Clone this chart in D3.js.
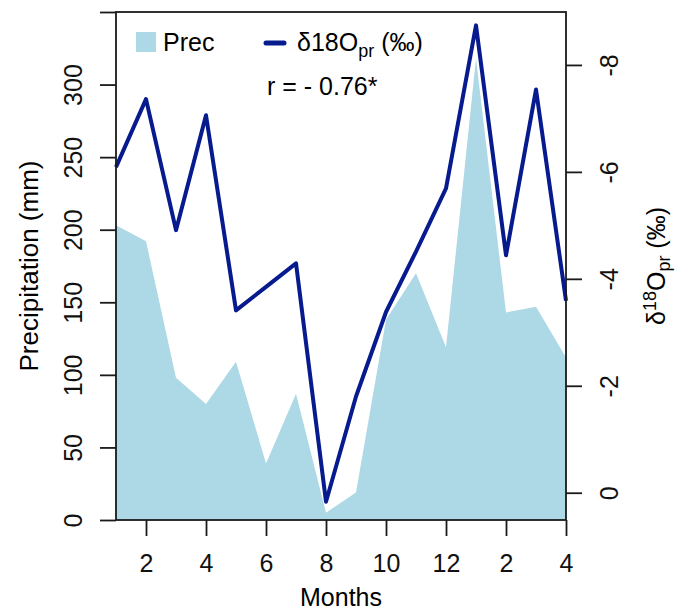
<!DOCTYPE html>
<html>
<head>
<meta charset="utf-8">
<script src="https://cdn.jsdelivr.net/npm/d3@7"></script>
<style>
    body { margin: 0; background: #fff; }
    #chart svg { display: block; font-family: "Liberation Sans", Arial, sans-serif; }
    .axis path, .axis line { stroke: #1a1a1a; stroke-width: 1.8; }
    .axis text { font-size: 25px; fill: #111; font-family: "Liberation Sans", Arial, sans-serif; }
</style>
</head>
<body>
<div id="chart"></div>
<script>
// Month labels for the 16 time steps (Jan of year 1 .. Apr of year 2)
const months = ["1", "2", "3", "4", "5", "6", "7", "8", "9", "10", "11", "12", "1", "2", "3", "4"];
// Monthly precipitation (mm)
const prec = [203, 192, 98, 80, 109, 39, 87, 5, 19, 138, 170, 119, 318, 143, 147, 112];
// Monthly precipitation d18O (permil)
const d18O = [-6.09, -7.36, -4.91, -7.06, -3.41, -3.85, -4.29, 0.17, -1.80, -3.38, -4.51, -5.69, -8.74, -4.44, -7.54, -3.59];
// Tick values
const xTicks = [2, 4, 6, 8, 10, 12, 14, 16];
const precTicks = [0, 50, 100, 150, 200, 250, 300, 350];
const precLabelMax = 300;
const isoTicks = [0, -2, -4, -6, -8];

document.addEventListener('DOMContentLoaded', () => {
    const W = 677, H = 615;
    const plot = { left: 116, right: 566, top: 12, bottom: 520 };

    const svg = d3.select("#chart")
        .append("svg")
        .attr("width", W)
        .attr("height", H);

    const data = months.map((m, i) => ({ idx: i + 1, month: m, prec: prec[i], iso: d18O[i] }));

    // Scales
    const x = d3.scaleLinear().domain([1, 16]).range([plot.left, plot.right]);
    const yL = d3.scaleLinear().domain([0, 350]).range([plot.bottom, plot.top]);
    const yR = d3.scaleLinear().domain([0.51, -8.99]).range([plot.bottom, plot.top]);

    // Precipitation area
    const area = d3.area()
        .x(d => x(d.idx))
        .y0(yL(0))
        .y1(d => yL(d.prec));

    svg.append("path")
        .datum(data)
        .attr("d", area)
        .attr("fill", "#add8e6");

    // d18O line
    const line = d3.line()
        .x(d => x(d.idx))
        .y(d => yR(d.iso));

    svg.append("path")
        .datum(data)
        .attr("d", line)
        .attr("fill", "none")
        .attr("stroke", "#071a8e")
        .attr("stroke-width", 4)
        .attr("stroke-linejoin", "round");

    // Box
    svg.append("rect")
        .attr("x", plot.left)
        .attr("y", plot.top)
        .attr("width", plot.right - plot.left)
        .attr("height", plot.bottom - plot.top)
        .attr("fill", "none")
        .attr("stroke", "#1a1a1a")
        .attr("stroke-width", 1.8);

    // Left axis
    const leftAxis = svg.append("g")
        .attr("class", "axis")
        .attr("transform", `translate(${plot.left},0)`)
        .call(d3.axisLeft(yL).tickValues(precTicks).tickSize(16)
            .tickFormat(d => d <= precLabelMax ? String(d) : ""));
    leftAxis.select(".domain").remove();
    leftAxis.selectAll(".tick text")
        .attr("x", null).attr("dy", null)
        .attr("text-anchor", "middle")
        .attr("transform", "translate(-34,0) rotate(-90)");

    // Right axis (plain hyphen minus like the original)
    const rightAxis = svg.append("g")
        .attr("class", "axis")
        .attr("transform", `translate(${plot.right},0)`)
        .call(d3.axisRight(yR).tickValues(isoTicks).tickSize(16)
            .tickFormat(d => String(d)));
    rightAxis.select(".domain").remove();
    rightAxis.selectAll(".tick text")
        .attr("x", null).attr("dy", null)
        .attr("text-anchor", "middle")
        .attr("transform", "translate(52,0) rotate(-90)");

    // Bottom axis
    const bottomAxis = svg.append("g")
        .attr("class", "axis")
        .attr("transform", `translate(0,${plot.bottom})`)
        .call(d3.axisBottom(x).tickValues(xTicks).tickSize(16)
            .tickFormat(d => months[d - 1]));
    bottomAxis.select(".domain").remove();
    bottomAxis.selectAll(".tick text")
        .attr("dy", null)
        .attr("y", 52);

    // Axis titles
    svg.append("text")
        .attr("transform", `translate(38,${(plot.top + plot.bottom) / 2}) rotate(-90)`)
        .attr("text-anchor", "middle")
        .style("font-size", "26px")
        .text("Precipitation (mm)");

    svg.append("text")
        .attr("x", (plot.left + plot.right) / 2)
        .attr("y", 606)
        .attr("text-anchor", "middle")
        .style("font-size", "25px")
        .text("Months");

    const rTitle = svg.append("text")
        .attr("transform", `translate(665,${(plot.top + plot.bottom) / 2}) rotate(-90)`)
        .attr("text-anchor", "middle")
        .style("font-size", "25px");
    rTitle.append("tspan").text("δ");
    rTitle.append("tspan").attr("dy", -9).style("font-size", "18px").text("18");
    rTitle.append("tspan").attr("dy", 9).text("O");
    rTitle.append("tspan").attr("dy", 5).style("font-size", "18px").text("pr");
    rTitle.append("tspan").attr("dy", -5).text(" (‰)");

    // Legend
    svg.append("rect")
        .attr("x", 136).attr("y", 32)
        .attr("width", 20).attr("height", 20)
        .attr("fill", "#add8e6");
    svg.append("text")
        .attr("x", 163).attr("y", 51)
        .style("font-size", "25px")
        .text("Prec");

    svg.append("line")
        .attr("x1", 266).attr("x2", 284)
        .attr("y1", 43).attr("y2", 43)
        .attr("stroke", "#071a8e")
        .attr("stroke-width", 5)
        .attr("stroke-linecap", "round");
    const lg = svg.append("text")
        .attr("x", 297).attr("y", 51)
        .style("font-size", "25px");
    lg.append("tspan").text("δ18O");
    lg.append("tspan").attr("dy", 6).style("font-size", "18px").text("pr");
    lg.append("tspan").attr("dy", -6).text(" (‰)");

    svg.append("text")
        .attr("x", 267).attr("y", 95)
        .style("font-size", "25px")
        .text("r = - 0.76*");
});
</script>
</body>
</html>
